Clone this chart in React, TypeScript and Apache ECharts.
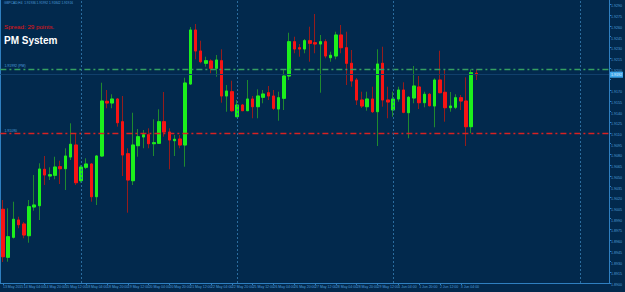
import React, { useEffect, useRef } from 'react';
import * as echarts from 'echarts';

const symbolHeader = 'GBPCAD,H4';
const spreadPoints = 29;
const systemName = 'PM System';

const timeLabels = [
  '13 May 2015', '14 May 04:00', '14 May 20:00', '15 May 12:00', '18 May 04:00', '18 May 20:00',
  '19 May 12:00', '20 May 04:00', '20 May 20:00', '21 May 12:00', '22 May 04:00', '22 May 20:00',
  '25 May 12:00', '26 May 04:00', '26 May 20:00', '27 May 12:00', '28 May 04:00', '28 May 20:00',
  '29 May 12:00', '1 Jun 04:00', '1 Jun 20:00', '2 Jun 12:00', '3 Jun 04:00',
];

const opens = [
  1.90032, 1.89360, 1.89640, 1.89882, 1.89826, 1.89662, 1.90064, 1.90082, 1.90592, 1.90498,
  1.90508, 1.90628, 1.90600, 1.90764, 1.90932, 1.90432, 1.90620, 1.90666, 1.90208, 1.90778,
  1.91544, 1.91520, 1.91576, 1.91258, 1.90810, 1.90432, 1.90922, 1.91044, 1.91076, 1.90950,
  1.90956, 1.91258, 1.91114, 1.90992, 1.91016, 1.90932, 1.91786, 1.92542, 1.92248, 1.92076,
  1.92108, 1.92006, 1.92112, 1.91618, 1.91678, 1.91328, 1.91492, 1.91412, 1.91576, 1.91468,
  1.91600, 1.91664, 1.91618, 1.91436, 1.91586, 1.91898, 1.92378, 1.92294, 1.92276, 1.92392,
  1.92364, 1.92346, 1.92378, 1.92154, 1.92178, 1.92472, 1.92294, 1.92076, 1.91842, 1.91562,
  1.91468, 1.91576, 1.91398, 1.92076, 1.91562, 1.91422, 1.91576, 1.91702, 1.91384, 1.91590,
  1.91744, 1.91524, 1.91642, 1.91478, 1.91842, 1.91670, 1.91454, 1.91460, 1.91594, 1.91548,
  1.91188, 1.91936,
];

const closes = [
  1.89368, 1.89648, 1.89892, 1.89816, 1.89672, 1.90068, 1.90092, 1.90596, 1.90512, 1.90516,
  1.90624, 1.90600, 1.90778, 1.90942, 1.90404, 1.90624, 1.90666, 1.90208, 1.90778, 1.91548,
  1.91520, 1.91576, 1.91244, 1.90792, 1.90442, 1.90932, 1.91048, 1.91076, 1.90950, 1.90964,
  1.91258, 1.91114, 1.91002, 1.91012, 1.90932, 1.91800, 1.92542, 1.92248, 1.92098, 1.92112,
  1.92006, 1.92122, 1.91618, 1.91688, 1.91412, 1.91492, 1.91412, 1.91576, 1.91468, 1.91618,
  1.91646, 1.91618, 1.91446, 1.91594, 1.91898, 1.92378, 1.92276, 1.92276, 1.92392, 1.92356,
  1.92346, 1.92378, 1.92178, 1.92188, 1.92472, 1.92294, 1.92076, 1.91828, 1.91562, 1.91478,
  1.91576, 1.91398, 1.92066, 1.91562, 1.91534, 1.91576, 1.91702, 1.91390, 1.91600, 1.91758,
  1.91524, 1.91642, 1.91482, 1.91842, 1.91664, 1.91454, 1.91478, 1.91594, 1.91548, 1.91188,
  1.91944, 1.91916,
];

const highs = [
  1.90162, 1.90046, 1.90138, 1.89928, 1.89854, 1.90162, 1.90512, 1.90676, 1.90778, 1.90620,
  1.90768, 1.90712, 1.90886, 1.91236, 1.91086, 1.90652, 1.90746, 1.90680, 1.90792, 1.91804,
  1.91702, 1.91642, 1.91590, 1.91618, 1.90886, 1.91384, 1.91156, 1.91142, 1.91166, 1.91292,
  1.91432, 1.91674, 1.91166, 1.91072, 1.91072, 1.91874, 1.92584, 1.92626, 1.92392, 1.92168,
  1.92132, 1.92192, 1.92272, 1.91772, 1.91832, 1.91562, 1.91506, 1.91842, 1.91618, 1.91712,
  1.91702, 1.91758, 1.91702, 1.91678, 1.91982, 1.92504, 1.92448, 1.92346, 1.92416, 1.92588,
  1.92766, 1.92472, 1.92412, 1.92238, 1.92518, 1.92612, 1.92518, 1.92262, 1.91870, 1.91678,
  1.91678, 1.91748, 1.92272, 1.92308, 1.91748, 1.91678, 1.91748, 1.91810, 1.91618, 1.92038,
  1.91898, 1.91678, 1.91660, 1.91866, 1.92252, 1.91992, 1.91674, 1.91642, 1.91632, 1.91880,
  1.91992, 1.91992,
];

const lows = [
  1.89294, 1.89298, 1.89623, 1.89766, 1.89626, 1.89564, 1.90012, 1.89882, 1.90372, 1.90442,
  1.90452, 1.90386, 1.90302, 1.90722, 1.90372, 1.90404, 1.90596, 1.90138, 1.90092, 1.90764,
  1.91446, 1.91446, 1.91188, 1.90498, 1.89984, 1.90372, 1.90768, 1.90886, 1.90886, 1.90778,
  1.90946, 1.91048, 1.90592, 1.90778, 1.90886, 1.90628, 1.91772, 1.92132, 1.92076, 1.92028,
  1.91936, 1.91888, 1.91524, 1.91398, 1.91398, 1.91320, 1.91408, 1.91408, 1.91306, 1.91306,
  1.91516, 1.91562, 1.91422, 1.91272, 1.91422, 1.91842, 1.92216, 1.92168, 1.92216, 1.92098,
  1.92216, 1.91664, 1.92146, 1.92098, 1.92132, 1.92216, 1.91772, 1.91748, 1.91492, 1.91450,
  1.91412, 1.91380, 1.90918, 1.91468, 1.91306, 1.91328, 1.91538, 1.91376, 1.91026, 1.91516,
  1.91436, 1.91460, 1.91471, 1.91180, 1.91656, 1.91258, 1.91398, 1.91436, 1.91422, 1.90918,
  1.91096, 1.91842,
];

// horizontal levels drawn on the chart
const levelUpper = 1.91992;
const levelLower = 1.91090;
// week separators (category index of Monday 00:00) and chart slots incl. right shift
const separatorIdx = [15, 45, 75, 111];
const slotCount = 117;

const FONT = '"Liberation Sans", Arial, sans-serif';
const BG = '#02294d';
const AXIS = '#2f7fc0';
const LABEL = '#4f9fdc';

export default function App() {
  const ref = useRef<HTMLDivElement>(null);
  useEffect(() => {
    const el = ref.current;
    if (!el) return;
    document.body.style.margin = '0';
    const chart = echarts.init(el, null, { renderer: 'svg' });
    const cats = Array.from({ length: slotCount }, (_, i) => String(i));
    const ohlc = opens.map((o, i) => [o, closes[i], lows[i], highs[i]]);
    const bodies = opens.map((o, i) => [o, closes[i], Math.min(o, closes[i]), Math.max(o, closes[i])]);
    const lastIdx = closes.length - 1;
    const last = closes[lastIdx];
    const header = `${symbolHeader}  ${opens[lastIdx].toFixed(5)} ${highs[lastIdx].toFixed(5)} ${lows[lastIdx].toFixed(5)} ${last.toFixed(5)}`;
    const showTick = (i: number) => i % 4 === 0 && i / 4 < timeLabels.length;

    chart.setOption({
      animation: false,
      backgroundColor: BG,
      textStyle: { fontFamily: FONT },
      grid: { left: -1.5, right: 14, top: 0, bottom: 9, containLabel: false },
      xAxis: {
        type: 'category',
        data: cats,
        boundaryGap: true,
        axisLine: { show: true, lineStyle: { color: AXIS, width: 1 } },
        axisTick: { show: true, length: 2, alignWithLabel: true, interval: (i: number) => showTick(i), lineStyle: { color: AXIS } },
        axisLabel: {
          show: true,
          interval: (i: number) => showTick(i),
          formatter: (_v: string, i: number) => (showTick(i) ? timeLabels[i / 4] : ''),
          align: 'left',
          fontSize: 3.5,
          color: LABEL,
          margin: 2,
          fontFamily: FONT,
        },
        splitLine: { show: false },
      },
      yAxis: {
        type: 'value',
        position: 'right',
        min: 1.89,
        max: 1.92962,
        interval: 0.0015,
        scale: true,
        axisLine: { show: true, lineStyle: { color: AXIS, width: 1 } },
        axisTick: { show: true, length: 2, lineStyle: { color: AXIS } },
        axisLabel: {
          show: true,
          formatter: (v: number) => (Math.abs(v - last) < 0.0008 ? '' : v.toFixed(4)),
          fontSize: 3.6,
          color: LABEL,
          margin: 2,
          verticalAlign: 'top',
          showMaxLabel: false,
          fontFamily: FONT,
        },
        splitLine: { show: false },
      },
      series: [
        {
          type: 'candlestick',
          name: 'wicks',
          data: ohlc,
          barWidth: 3,
          z: 2,
          itemStyle: {
            color: '#1f8a2e',
            color0: '#951c1c',
            borderColor: '#1f8a2e',
            borderColor0: '#951c1c',
            borderWidth: 1,
          },
          markLine: {
            silent: true,
            symbol: 'none',
            animation: false,
            precision: 5,
            data: [
              {
                yAxis: last,
                lineStyle: { color: '#103f6b', width: 1, type: 'solid' },
                label: {
                  show: true,
                  position: 'end',
                  distance: 1,
                  formatter: last.toFixed(4),
                  color: '#eaf6ff',
                  backgroundColor: '#3ea6ea',
                  fontSize: 3.6,
                  padding: [1, 1, 1, 1],
                },
              },
              {
                yAxis: levelUpper,
                lineStyle: { color: '#35a062', width: 1.3, opacity: 1, type: [6, 3, 2, 3] },
                label: {
                  show: true,
                  position: 'insideStartTop',
                  distance: 1,
                  formatter: `${levelUpper.toFixed(5)} (PM)`,
                  color: LABEL,
                  fontSize: 3.5,
                  padding: [0, 0, 0, 3],
                },
              },
              {
                yAxis: levelLower,
                lineStyle: { color: '#d82222', width: 1.3, opacity: 1, type: [6, 3, 2, 3] },
                label: {
                  show: true,
                  position: 'insideStartTop',
                  distance: 1,
                  formatter: levelLower.toFixed(5),
                  color: LABEL,
                  fontSize: 3.5,
                  padding: [0, 0, 0, 3],
                },
              },
              ...separatorIdx.map((i) => ({
                xAxis: i,
                lineStyle: { color: '#2a6c9e', width: 1, type: [2, 2] },
                label: { show: false },
              })),
            ],
          },
        },
        {
          type: 'candlestick',
          name: 'bodies',
          data: bodies,
          barWidth: 3,
          z: 3,
          itemStyle: {
            color: '#1cf01c',
            color0: '#f71414',
            borderColor: '#1cf01c',
            borderColor0: '#f71414',
            borderWidth: 1,
          },
        },
      ],
      graphic: [
        { type: 'line', shape: { x1: 0.5, y1: 0, x2: 0.5, y2: 283 }, style: { stroke: AXIS, lineWidth: 1 }, silent: true },
        { type: 'text', left: 4, top: 1, style: { text: header, fill: LABEL, fontSize: 3.2, fontFamily: FONT } },
        { type: 'text', left: 4, top: 23, style: { text: `Spread: ${spreadPoints} points.`, fill: '#e01414', fontSize: 6.2, fontFamily: FONT } },
        { type: 'text', left: 4, top: 35, style: { text: systemName, fill: '#ffffff', fontSize: 10, fontWeight: 'bold', fontFamily: FONT } },
      ],
    });
    return () => chart.dispose();
  }, []);
  return <div ref={ref} style={{ position: 'fixed', left: 0, top: 0, width: 625, height: 292, background: BG }} />;
}
